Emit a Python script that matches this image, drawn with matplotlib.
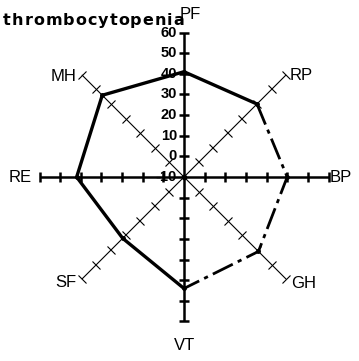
import numpy as np
import matplotlib
matplotlib.use("Agg")
import matplotlib.pyplot as plt
from matplotlib.markers import MarkerStyle
from matplotlib.transforms import Affine2D

# SF-36 domain scores
domains = ["PF", "RP", "BP", "GH", "VT", "SF", "RE", "MH"]
scores = [41, 40, 40, 41, 44, 32, 42, 46]
r_ticks = [-10, 0, 10, 20, 30, 40, 50, 60]
title = "thrombocytopenia"

R_MIN, R_MAX = -10, 60
W, H = 359, 361

fig = plt.figure(figsize=(W / 100, H / 100), dpi=100)
cx, cy, rad = 184 / W, (H - 177) / H, 144.5
ax = fig.add_axes([cx - rad / W, cy - rad / H, 2 * rad / W, 2 * rad / H],
                  projection="polar")
ax.set_theta_zero_location("N")
ax.set_theta_direction(-1)
ax.set_rlim(R_MIN, R_MAX)
ax.grid(False)
ax.spines["polar"].set_visible(False)
ax.set_xticks([])
ax.set_yticks([])
ax.patch.set_alpha(0)

n = len(domains)
thetas = np.arange(n) * 2 * np.pi / n

# spokes with perpendicular tick marks
for i, th in enumerate(thetas):
    straight = i % 2 == 0
    lw = 1.8 if straight else 0.8
    ax.plot([th, th], [R_MIN, R_MAX], color="black", lw=lw, zorder=2,
            solid_capstyle="butt", clip_on=False)
    screen_deg = 90 - np.degrees(th)
    mk = MarkerStyle("_", transform=Affine2D().rotate_deg(screen_deg - 90))
    tv = [v for v in r_ticks if v > R_MIN]
    ax.plot([th] * len(tv), tv, linestyle="none", marker=mk,
            markersize=7 if straight else 8, markeredgewidth=lw,
            color="black", zorder=2, clip_on=False)

# tick labels along the PF spoke
for v in r_ticks:
    ax.annotate(str(v), xy=(0, v), xytext=(-7, 0), textcoords="offset pixels",
                ha="right", va="center", fontsize=10.5, fontweight="bold",
                family="Liberation Sans", zorder=4, annotation_clip=False)

# domain labels beyond the spoke ends
offsets = {"PF": (6, 18), "RP": (15, -1), "BP": (12, 0), "GH": (17, -4),
           "VT": (1, -24), "SF": (-16, -3), "RE": (-19, 0), "MH": (-18, -2)}
for th, name in zip(thetas, domains):
    ax.annotate(name, xy=(th, R_MAX), xytext=offsets[name],
                textcoords="offset pixels", ha="center", va="center",
                fontsize=12, family="Liberation Sans", annotation_clip=False)

# score profile: solid part and dash-dot part
idx = {d: k for k, d in enumerate(domains)}
solid_order = ["VT", "SF", "RE", "MH", "PF", "RP"]
dash_order = ["RP", "BP", "GH", "VT"]
ax.plot([thetas[idx[d]] for d in solid_order],
        [scores[idx[d]] for d in solid_order],
        color="black", lw=2.4, zorder=3, solid_joinstyle="round",
        clip_on=False)
ax.plot([thetas[idx[d]] for d in dash_order],
        [scores[idx[d]] for d in dash_order],
        color="black", lw=2.0, zorder=3, linestyle=(0, (8, 2, 1.5, 2)),
        clip_on=False)
ax.plot(thetas, scores, linestyle="none", marker="o", markersize=2.5,
        color="black", zorder=3, clip_on=False)
ax.plot([0], [R_MIN], marker="o", markersize=3, color="black", zorder=3)

# letter-spaced bold title
renderer = fig.canvas.get_renderer()
x_px = 3.0
for ch in title:
    t = fig.text(x_px / W, 1 - 25 / H, ch, ha="left", va="baseline",
                 fontsize=11.5, fontweight="bold", family="DejaVu Sans")
    w = t.get_window_extent(renderer).width
    x_px += w + 1.0

fig.savefig("out.png", dpi=100, facecolor="white")
